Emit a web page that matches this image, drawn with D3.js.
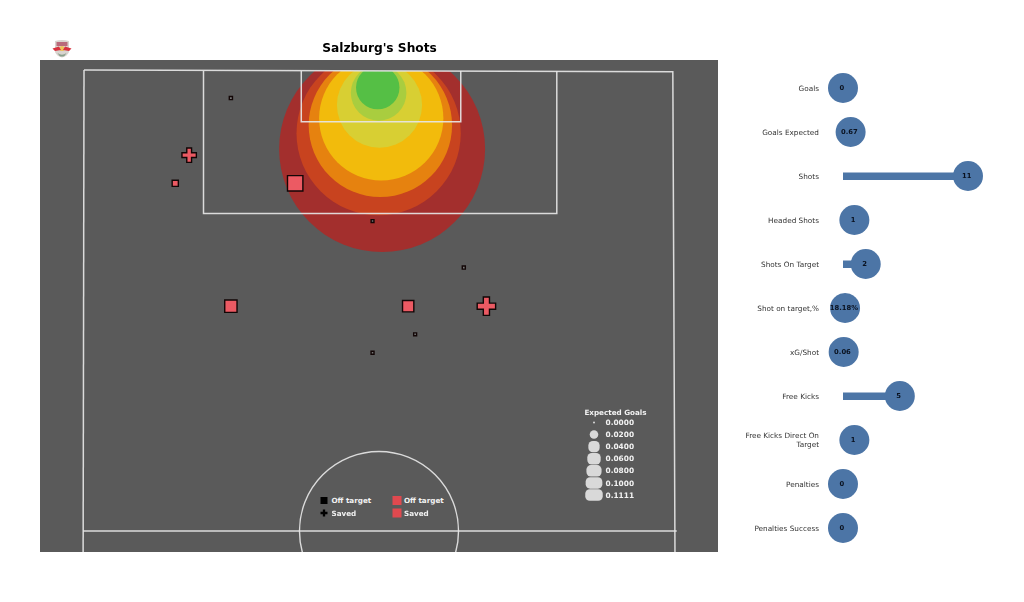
<!DOCTYPE html>
<html><head><meta charset="utf-8">
<script src="https://cdn.jsdelivr.net/npm/d3@7"></script>
<style>html,body{margin:0;padding:0;background:#fff}svg{display:block;filter:blur(0.3px)}text{font-family:"DejaVu Sans",sans-serif}</style>
</head><body><svg id="c" width="1024" height="602"></svg>
<script>
// Shots, in metres on the pitch (x across, y from goal line)
const shotX = [16.9, 12.1, 10.5, 24.3, 33.2, 43.7, 16.9, 37.3, 46.3, 38.1, 33.2];
const shotY = [3.2, 9.7, 12.9, 12.9, 17.2, 22.5, 26.9, 26.9, 26.9, 30.1, 32.2];
const shotXG = [0.0006, 0.06, 0.008, 0.083, 0.0003, 0.0005, 0.049, 0.04, 0.11, 0.0004, 0.0004];
const shotKind = ["off","saved","off","off","off","off","off","off","saved","off","off"];
// Density contour bands: centre (metres), radius (metres), colour
const bandX = [34.3, 33.9, 34.1, 34.2, 34.0, 33.9, 33.8];
const bandY = [9.0, 7.2, 6.3, 5.5, 4.0, 2.6, 2.0];
const bandR = [11.85, 9.45, 8.25, 7.15, 4.9, 3.2, 2.5];
const bandColor = ["#a32f2d","#c8431f","#e6820f","#f2bb0c","#d8cf33","#a9cd3f","#55bf45"];
// Right-hand panel
const statNames = ["Goals","Goals Expected","Shots","Headed Shots","Shots On Target","Shot on target,%","xG/Shot","Free Kicks","Free Kicks Direct On|Target","Penalties","Penalties Success"];
const statValues = [0,0.67,11,1,2,0.18,0.06,5,1,0,0];
const statLabels = ["0","0.67","11","1","2","18.18%","0.06","5","1","0","0"];
// Legends
const legendXG = [0,0.02,0.04,0.06,0.08,0.1,0.1111];
const legendXGLabels = ["0.0000","0.0200","0.0400","0.0600","0.0800","0.1000","0.1111"];
const keyLabels = ["Off target","Saved"];

const svg = d3.select("#c");
const x = d3.scaleLinear().domain([0,68]).range([84,675]);
const y = d3.scaleLinear().domain([0,52.5]).range([70,531]);
const side = d3.scaleSqrt().domain([0,0.1111]).range([2,17.5]);
const statX = d3.scaleLinear().domain([0,11]).range([843,968]);
const rowY = d3.scalePoint().domain(statNames).range([88,528]);

svg.append("rect").attr("x",40).attr("y",60).attr("width",678).attr("height",492).attr("fill","#5a5a5a");
svg.append("defs").html('<clipPath id="top"><rect x="40" y="71" width="678" height="481"/></clipPath><clipPath id="plot"><rect x="40" y="60" width="678" height="492"/></clipPath>');

svg.append("g").attr("clip-path","url(#top)").selectAll("circle").data(bandColor).join("circle")
  .attr("cx",(d,i)=>x(bandX[i])).attr("cy",(d,i)=>y(bandY[i]))
  .attr("r",(d,i)=>x(bandR[i])-x(0)).attr("fill",d=>d);

// Pitch lines
const line = d3.line().x(d=>x(d[0])).y(d=>y(d[1]));
const pitch = svg.append("g").attr("clip-path","url(#plot)").attr("fill","none").attr("stroke","#e6e6e6").attr("stroke-opacity",.92).attr("stroke-width",1.5);
const outline = [[0,0],[67.75,0.2],[68,55.5]];
const leftLine = [[0,0],[-0.1,55.5]];
const halfway = [[-0.1,52.5],[68.2,52.5]];
const box = [[13.75,0.1],[13.75,16.35],[54.4,16.35],[54.4,0.1]];
const sixYard = [[25,0.1],[25,5.9],[43.35,5.9],[43.35,0.1]];
[outline,leftLine,halfway,box,sixYard].forEach(p=>pitch.append("path").attr("d",line(p)));
pitch.append("circle").attr("cx",x(34)-0.5).attr("cy",y(52.5)).attr("r",x(9.15)-x(0)).attr("stroke-width",1.4);

// Shots
const sym = (kind,s)=> kind==="saved"
  ? d3.symbol().type(d3.symbolCross).size(5*(s/3)*(s/3))()
  : d3.symbol().type(d3.symbolSquare).size(s*s)();
svg.append("g").selectAll("path").data(shotX).join("path")
  .attr("transform",(d,i)=>`translate(${x(d)},${y(shotY[i])})`)
  .attr("d",(d,i)=>sym(shotKind[i],side(shotXG[i])+(shotKind[i]==="saved"?1:0)))
  .attr("fill",(d,i)=>shotXG[i]<0.001?"#777":"#ec5a63")
  .attr("stroke","#120606").attr("stroke-width",1.4);

// Key
const keyG = svg.append("g").attr("font-size",7.2).attr("font-weight","bold").attr("fill","#f2f2f2");
keyLabels.forEach((t,i)=>{
  const yy = 500.5+i*12.5;
  keyG.append("path").attr("transform",`translate(324,${yy})`).attr("fill","#000")
    .attr("d",sym(i?"saved":"off",7));
  keyG.append("text").attr("x",331.5).attr("y",yy+2.5).text(t);
  keyG.append("rect").attr("x",392.5).attr("y",yy-4.5).attr("width",9).attr("height",9).attr("fill","#e0494f");
  keyG.append("text").attr("x",404).attr("y",yy+2.5).text(t);
});

// xG legend
const lg = svg.append("g").attr("font-weight","bold").attr("fill","#f2f2f2");
lg.append("text").attr("x",615.5).attr("y",414.5).attr("text-anchor","middle").attr("font-size",7.2).text("Expected Goals");
const ly = d3.scaleLinear().domain([0,6]).range([422.5,495]);
legendXG.forEach((v,i)=>{
  const w = side(v), h = Math.min(w,11.5);
  lg.append("rect").attr("x",594-w/2).attr("y",ly(i)-h/2).attr("width",w).attr("height",h)
    .attr("rx",Math.min(h/2,4.5)).attr("fill","#d9d9d9");
  lg.append("text").attr("x",605.5).attr("y",ly(i)+2.6).attr("font-size",7.4).text(legendXGLabels[i]);
});

// Stats panel
const st = svg.append("g");
st.selectAll("rect").data(statValues).join("rect")
  .attr("x",statX(0)).attr("y",(d,i)=>rowY(statNames[i])-3.5)
  .attr("width",d=>statX(d)-statX(0)).attr("height",7.5).attr("fill","#4c75a6");
st.selectAll("circle").data(statValues).join("circle")
  .attr("cx",d=>statX(d)).attr("cy",(d,i)=>rowY(statNames[i]))
  .attr("r",15).attr("fill","#4c75a6");
st.selectAll("text.v").data(statValues).join("text").attr("class","v")
  .attr("x",d=>statX(d)-1.2).attr("y",(d,i)=>rowY(statNames[i])+2.3)
  .attr("text-anchor","middle").attr("font-size",6.8).attr("font-weight","bold").attr("fill","#0a1220")
  .text((d,i)=>statLabels[i]);
statNames.forEach(n=>{
  const parts = n.split("|");
  parts.forEach((p,k)=>{
    st.append("text").attr("x",819)
      .attr("y",rowY(n)+2.5+(k-(parts.length-1)/2)*9.4)
      .attr("text-anchor","end").attr("font-size",7.3).attr("fill","#333").text(p);
  });
});

// Title
svg.append("text").attr("x",379.5).attr("y",51.5).attr("text-anchor","middle").attr("font-size",12.2)
  .attr("font-weight","bold").attr("fill","#000").text("Salzburg's Shots");

// Crest
const crest = svg.append("g").attr("transform","translate(62,48)");
crest.append("path").attr("d","M-7,-7 Q0,-9 7,-7 L7,4 Q5,8.5 0,9.5 Q-5,8.5 -7,4 Z").attr("fill","#d9d4cf");
crest.append("rect").attr("x",-5.5).attr("y",-6).attr("width",11).attr("height",4).attr("fill","#b96a7a");
crest.append("circle").attr("cx",0).attr("cy",0.5).attr("r",2.6).attr("fill","#efc25a");
crest.append("path").attr("d","M-9.5,0.5 L-3,-1.5 L-1,2 L-7,3 Z M9.5,0.5 L3,-1.5 L1,2 L7,3 Z").attr("fill","#d8323f");
crest.append("path").attr("d","M-4.5,5 Q0,8.5 4.5,5 L2.5,8 Q0,9 -2.5,8 Z").attr("fill","#8aa08c");
</script></body></html>
